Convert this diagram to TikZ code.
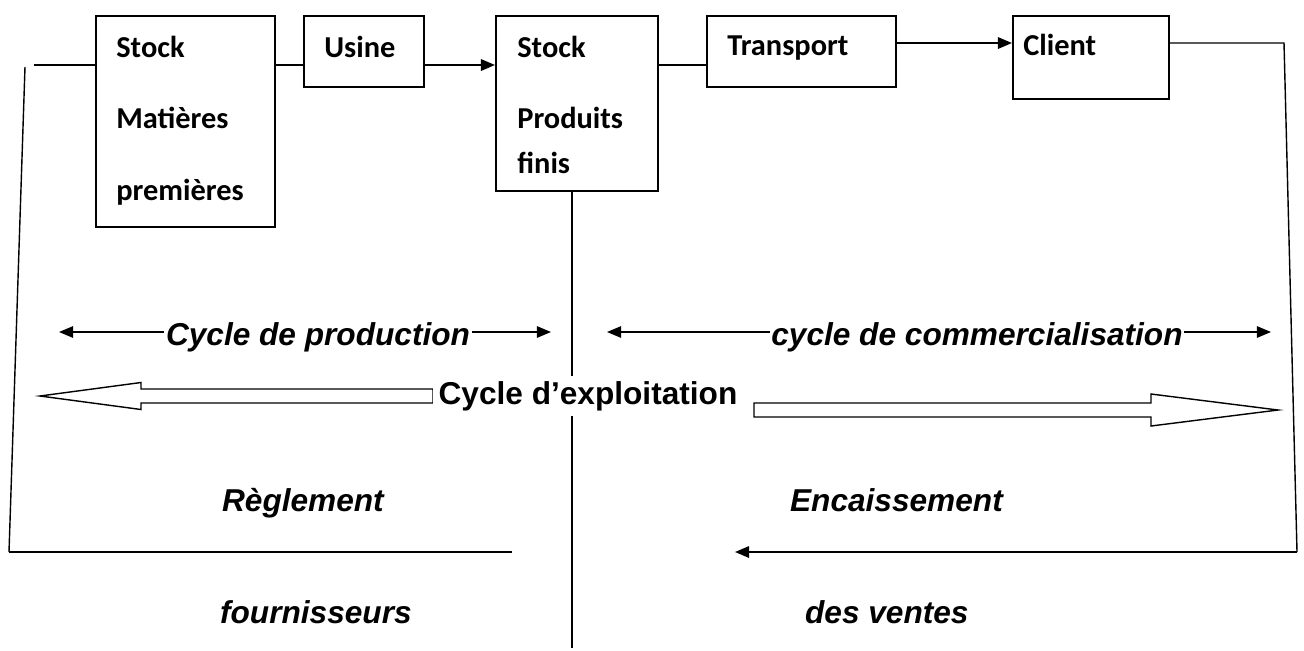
\documentclass[tikz,border=0pt]{standalone}
\usepackage{fontspec}
\usepackage{tikz}
\usetikzlibrary{arrows.meta}
\newfontfamily\boxfont{Carlito}
\newfontfamily\arialfont{Liberation Sans}

\tikzset{
  box/.style={draw,line width=1.1pt,inner sep=0pt,anchor=north west},
  boxtext/.style={font=\boxfont\bfseries\fontsize{17.3}{20}\selectfont,anchor=base west,inner sep=0pt},
  cyctext/.style={font=\arialfont\bfseries\itshape\fontsize{18}{21}\selectfont,anchor=base,inner sep=1pt},
  flow/.style={line width=1.1pt},
  thinflow/.style={line width=0.8pt},
  >={Triangle[length=8pt,width=6.5pt]}
}

\begin{document}
\begin{tikzpicture}[x=0.02cm,y=-0.02cm]
    \useasboundingbox (0,0) rectangle (1304,650);
    % boxes
    \node[box,minimum width=3.58cm,minimum height=4.22cm] (smp) at (95,15) {};
    \node[box,minimum width=2.4cm,minimum height=1.42cm] (usine) at (303,15) {};
    \node[box,minimum width=3.24cm,minimum height=3.5cm] (spf) at (495,15) {};
    \node[box,minimum width=3.78cm,minimum height=1.42cm] (transport) at (706,15) {};
    \node[box,minimum width=3.12cm,minimum height=1.66cm] (client) at (1012,15) {};
    \node[boxtext] (smp-a) at (116,57) {Stock};
    \node[boxtext] (smp-b) at (116,128) {Matières};
    \node[boxtext] (smp-c) at (116,200) {premières};
    \node[boxtext] (usine-a) at (324,57) {Usine};
    \node[boxtext] (spf-a) at (517,57) {Stock};
    \node[boxtext] (spf-b) at (517,128) {Produits};
    \node[boxtext] (spf-c) at (517,173) {finis};
    \node[boxtext] (transport-a) at (727,55) {Transport};
    \node[boxtext] (client-a) at (1023,55) {Client};

    % flux physique
    \coordinate (fstart) at (34,65);
    \coordinate (cline) at (0,43);
    \draw[flow] (fstart) -- (fstart -| smp.west);
    \draw[flow] (smp.east |- fstart) -- (usine.west |- fstart);
    \draw[flow,->] (usine.east |- fstart) -- (spf.west |- fstart);
    \draw[flow] (spf.east |- fstart) -- (transport.west |- fstart);
    \draw[flow,->] (transport.east |- cline) -- (client.west |- cline);

    % retours
    \coordinate (rtop) at (1284,43);
    \coordinate (rbot) at (1297,552);
    \coordinate (rtip) at (735,552);
    \draw[thinflow] (client.east |- cline) -- (rtop) -- (rbot);
    \draw[flow,->] (rbot) -- (rtip);
    \coordinate (ltop) at (25,67);
    \coordinate (lbot) at (9,552);
    \coordinate (lend) at (512,552);
    \draw[thinflow] (ltop) -- (lbot);
    \draw[flow] (lbot) -- (lend);
    \coordinate (mbot) at (572,648);
    \draw[thinflow] (spf.south -| mbot) -- (mbot);

    % cycles
    \coordinate (prodl) at (59,332);
    \coordinate (prodr) at (551,332);
    \coordinate (coml) at (607,332);
    \coordinate (comr) at (1271,332);
    \draw[thinflow,<->] (prodl) -- (prodr);
    \draw[thinflow,<->] (coml) -- (comr);
    \node[cyctext,fill=white] (cprod) at (318,345) {Cycle de production};
    \node[cyctext,fill=white] (ccom) at (977,345) {cycle de commercialisation};

    \draw[thinflow] (40,396) -- (141,382.5) -- (141,389) -- (433,389) -- (433,403)
      -- (141,403) -- (141,409.5) -- cycle;
    \draw[thinflow] (1278,410) -- (1151,394) -- (1151,403) -- (754,403) -- (754,417)
      -- (1151,417) -- (1151,426) -- cycle;
    \node[cyctext,font=\arialfont\bfseries\fontsize{18}{21}\selectfont,fill=white,inner sep=3pt] (cexp) at (588,404) {Cycle d’exploitation};

    % règlements
    \node[cyctext,anchor=base west] (regl) at (220,511) {Règlement};
    \node[cyctext,anchor=base west] (fourn) at (218,623) {fournisseurs};
    \node[cyctext,anchor=base west] (encai) at (788,511) {Encaissement};
    \node[cyctext,anchor=base west] (vente) at (803,623) {des ventes};
\end{tikzpicture}
\end{document}
